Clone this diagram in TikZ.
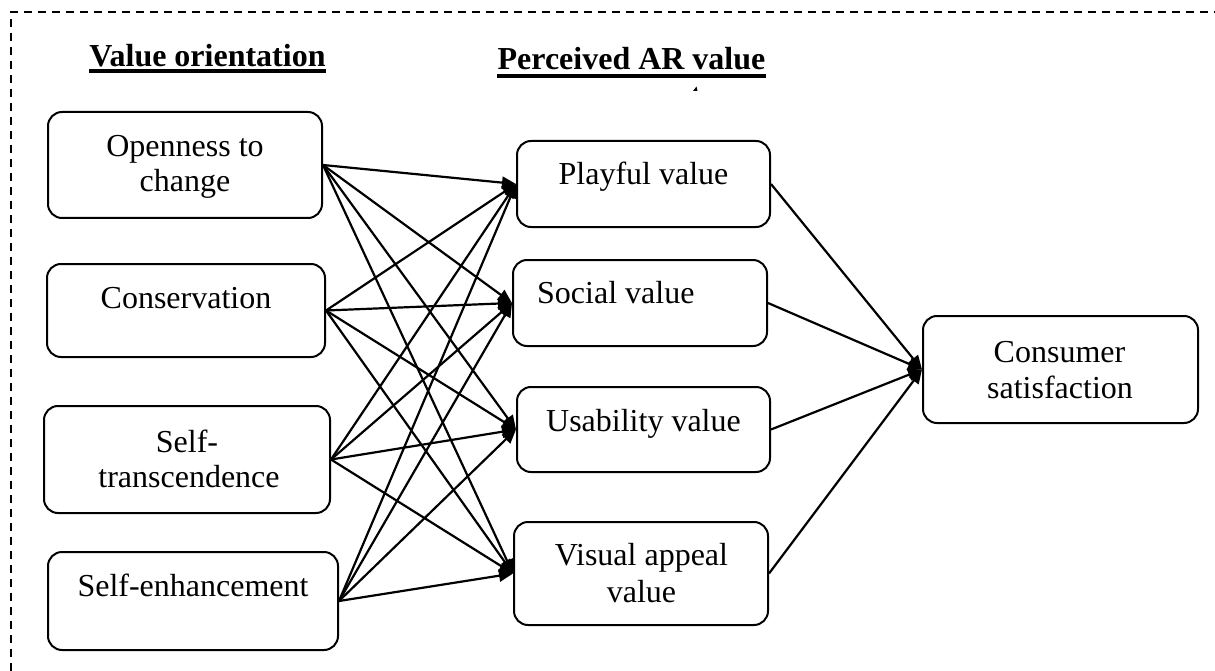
\documentclass[tikz,border=0pt]{standalone}
\usepackage{fontspec}
\setmainfont{Liberation Serif}
\usetikzlibrary{arrows.meta}
\begin{document}
\begin{tikzpicture}[x=1pt,y=-1pt,
  box/.style={draw=black,line width=2pt,rounded corners=14pt,inner sep=0pt,fill=white},
  txt/.style={inner sep=0pt,anchor=base,font=\fontsize{32}{37}\selectfont},
  head/.style={inner sep=0pt,anchor=base,font=\fontsize{32}{37}\selectfont\bfseries},
  conn/.style={line width=2.2pt,-{Triangle[length=14pt,width=12pt]}},
  border/.style={line width=2pt,dash pattern=on 8pt off 6pt}]
\useasboundingbox (0,0) rectangle (1215,671);
% partial dashed frame
\coordinate (fbl) at (11,671);
\coordinate (ftl) at (11,12);
\coordinate (ftr) at (1215,12);
\draw[border] (fbl) -- (ftl) -- (ftr);
% headings
\node[head] (vo) at (207.5,67) {Value orientation};
\node[head] (pa) at (631.5,70) {Perceived AR value};
\draw[line width=3.2pt] ([yshift=-4pt]vo.base west) -- ([yshift=-4pt]vo.base east);
\draw[line width=3.4pt] ([yshift=-6pt]pa.base west) -- ([yshift=-6pt]pa.base east);
% small stray mark
\fill (693,91) -- (696.5,86.5) -- (697.5,91) -- cycle;
% boxes
\node[box,minimum width=274pt,minimum height=106pt] (open) at (185,165) {};
\node[box,minimum width=278pt,minimum height=93pt] (cons) at (186,310.5) {};
\node[box,minimum width=286pt,minimum height=107pt] (trans) at (187,459.5) {};
\node[box,minimum width=290pt,minimum height=98pt] (enh) at (193,601) {};
\node[box,minimum width=253pt,minimum height=86pt] (play) at (643.5,184) {};
\node[box,minimum width=254pt,minimum height=86pt] (soc) at (640,303) {};
\node[box,minimum width=253pt,minimum height=85pt] (usab) at (643.5,429.5) {};
\node[box,minimum width=254pt,minimum height=103pt] (vis) at (641,573.5) {};
\node[box,minimum width=275pt,minimum height=107pt] (sat) at (1060.5,369.5) {};
% texts
\node[txt] (open1) at (185,157) {Openness to};
\node[txt] (open2) at (185,192) {change};
\node[txt] (cons1) at (186,308) {Conservation};
\node[txt] (trans1) at (187,452) {Self-};
\node[txt] (trans2) at (189,487) {transcendence};
\node[txt] (enh1) at (193,596) {Self-enhancement};
\node[txt] (play1) at (643.5,185) {Playful value};
\node[txt,anchor=base west] (soc1) at (537,303) {Social value};
\node[txt] (usab1) at (643.5,431) {Usability value};
\node[txt] (vis1) at (641.5,565) {Visual appeal};
\node[txt] (vis2) at (641.5,602) {value};
\node[txt] (sat1) at (1059.5,362) {Consumer};
\node[txt] (sat2) at (1060,398) {satisfaction};
% connectors
\foreach \s in {open,cons,trans,enh}{
  \foreach \t in {play,soc,usab,vis}{
    \draw[conn] (\s.east) -- (\t.west);
  }
}
\foreach \s in {play,soc,usab,vis}{
  \draw[conn] (\s.east) -- (sat.west);
}
\end{tikzpicture}
\end{document}
